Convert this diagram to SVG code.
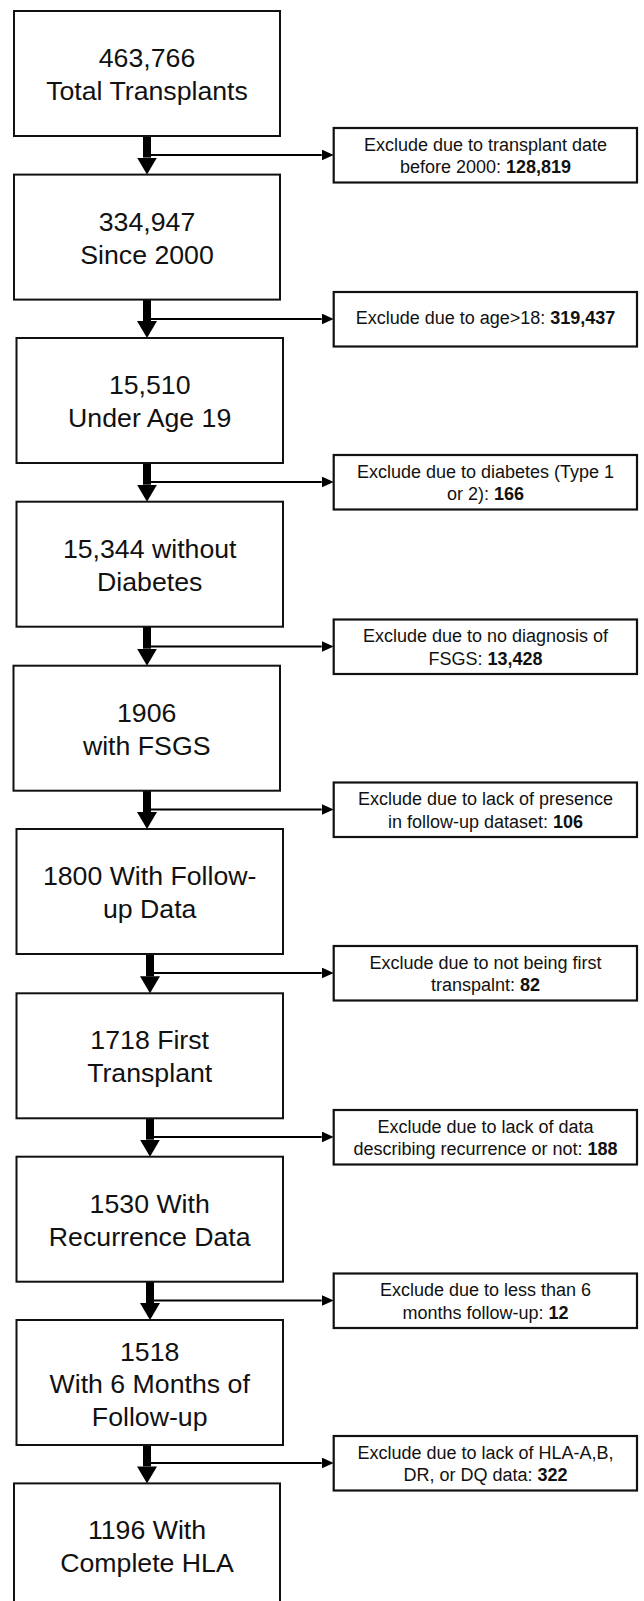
<svg xmlns="http://www.w3.org/2000/svg" width="644" height="1601" viewBox="0 0 644 1601">
<style>
.box{fill:#fff;stroke:#111;stroke-width:2}
.ex{fill:#fff;stroke:#111;stroke-width:2.2}
.t{font-family:"Liberation Sans",Arial,sans-serif;font-size:26.7px;fill:#111;text-anchor:middle}
.e{font-family:"Liberation Sans",Arial,sans-serif;font-size:18px;fill:#111;text-anchor:middle}
.b{font-weight:bold}
.shaft{stroke:#000;stroke-width:8;fill:none}
.thin{stroke:#000;stroke-width:2;fill:none}
</style>
<defs>
<marker id="big" markerUnits="userSpaceOnUse" markerWidth="17" markerHeight="20" viewBox="0 0 17 20" refX="0" refY="10" orient="auto"><path d="M0,0 L17,10 L0,20 Z" fill="#000"/></marker>
<marker id="small" markerUnits="userSpaceOnUse" markerWidth="12" markerHeight="11" viewBox="0 0 12 11" refX="0" refY="5.5" orient="auto"><path d="M0,0 L12,5.5 L0,11 Z" fill="#000"/></marker>
</defs>
<rect width="644" height="1601" fill="#fff"/>

<g id="connectors">
<line class="shaft" x1="147" y1="136" x2="147" y2="157.6" marker-end="url(#big)"/>
<line class="thin" x1="147" y1="155" x2="321.7" y2="155" marker-end="url(#small)"/>
<line class="shaft" x1="147" y1="299.6" x2="147" y2="321" marker-end="url(#big)"/>
<line class="thin" x1="147" y1="319" x2="321.7" y2="319" marker-end="url(#small)"/>
<line class="shaft" x1="147" y1="463" x2="147" y2="484.7" marker-end="url(#big)"/>
<line class="thin" x1="147" y1="482" x2="321.7" y2="482" marker-end="url(#small)"/>
<line class="shaft" x1="147" y1="626.7" x2="147" y2="648.7" marker-end="url(#big)"/>
<line class="thin" x1="147" y1="646.5" x2="321.7" y2="646.5" marker-end="url(#small)"/>
<line class="shaft" x1="147" y1="790.7" x2="147" y2="812" marker-end="url(#big)"/>
<line class="thin" x1="147" y1="809.5" x2="321.7" y2="809.5" marker-end="url(#small)"/>
<line class="shaft" x1="150" y1="954" x2="150" y2="976.3" marker-end="url(#big)"/>
<line class="thin" x1="150" y1="973" x2="321.7" y2="973" marker-end="url(#small)"/>
<line class="shaft" x1="150" y1="1118.3" x2="150" y2="1139.7" marker-end="url(#big)"/>
<line class="thin" x1="150" y1="1137" x2="321.7" y2="1137" marker-end="url(#small)"/>
<line class="shaft" x1="150" y1="1281.7" x2="150" y2="1303" marker-end="url(#big)"/>
<line class="thin" x1="150" y1="1300.5" x2="321.7" y2="1300.5" marker-end="url(#small)"/>
<line class="shaft" x1="147" y1="1445" x2="147" y2="1466.4" marker-end="url(#big)"/>
<line class="thin" x1="147" y1="1463" x2="321.7" y2="1463" marker-end="url(#small)"/>
</g>

<g id="n1"><rect class="box" x="14" y="11" width="266" height="125"/>
<text class="t" x="147" y="67">463,766</text><text class="t" x="147" y="100">Total Transplants</text></g>
<g id="n2"><rect class="box" x="14" y="174.6" width="266" height="125"/>
<text class="t" x="147" y="230.6">334,947</text><text class="t" x="147" y="263.6">Since 2000</text></g>
<g id="n3"><rect class="box" x="16.5" y="338" width="266.5" height="125"/>
<text class="t" x="149.7" y="394">15,510</text><text class="t" x="149.7" y="427">Under Age 19</text></g>
<g id="n4"><rect class="box" x="16.5" y="501.7" width="266.5" height="125"/>
<text class="t" x="149.7" y="557.7">15,344 without</text><text class="t" x="149.7" y="590.7">Diabetes</text></g>
<g id="n5"><rect class="box" x="13.5" y="665.7" width="266.5" height="125"/>
<text class="t" x="146.7" y="721.7">1906</text><text class="t" x="146.7" y="754.7">with FSGS</text></g>
<g id="n6"><rect class="box" x="16.5" y="829" width="266.5" height="125"/>
<text class="t" x="149.7" y="885">1800 With Follow-</text><text class="t" x="149.7" y="918">up Data</text></g>
<g id="n7"><rect class="box" x="16.5" y="993.3" width="266.5" height="125"/>
<text class="t" x="149.7" y="1049.3">1718 First</text><text class="t" x="149.7" y="1082.3">Transplant</text></g>
<g id="n8"><rect class="box" x="16.5" y="1156.7" width="266.5" height="125"/>
<text class="t" x="149.7" y="1212.7">1530 With</text><text class="t" x="149.7" y="1245.7">Recurrence Data</text></g>
<g id="n9"><rect class="box" x="16.5" y="1320" width="266.5" height="125"/>
<text class="t" x="149.7" y="1361">1518</text><text class="t" x="149.7" y="1393.3">With 6 Months of</text><text class="t" x="149.7" y="1425.6">Follow-up</text></g>
<g id="n10"><rect class="box" x="14" y="1483.4" width="266" height="125"/>
<text class="t" x="147" y="1539.4">1196 With</text><text class="t" x="147" y="1572.4">Complete HLA</text></g>

<g id="x1"><rect class="ex" x="333.7" y="128" width="303.3" height="54.5"/>
<text class="e" x="485.5" y="150.5">Exclude due to transplant date</text><text class="e" x="485.5" y="173">before 2000: <tspan class="b">128,819</tspan></text></g>
<g id="x2"><rect class="ex" x="333.7" y="292" width="303.3" height="54.5"/>
<text class="e" x="485.5" y="324">Exclude due to age&gt;18: <tspan class="b">319,437</tspan></text></g>
<g id="x3"><rect class="ex" x="333.7" y="455" width="303.3" height="54.5"/>
<text class="e" x="485.5" y="477.5">Exclude due to diabetes (Type 1</text><text class="e" x="485.5" y="500">or 2): <tspan class="b">166</tspan></text></g>
<g id="x4"><rect class="ex" x="333.7" y="619.5" width="303.3" height="54.5"/>
<text class="e" x="485.5" y="642">Exclude due to no diagnosis of</text><text class="e" x="485.5" y="664.5">FSGS: <tspan class="b">13,428</tspan></text></g>
<g id="x5"><rect class="ex" x="333.7" y="782.5" width="303.3" height="54.5"/>
<text class="e" x="485.5" y="805">Exclude due to lack of presence</text><text class="e" x="485.5" y="827.5">in follow-up dataset: <tspan class="b">106</tspan></text></g>
<g id="x6"><rect class="ex" x="333.7" y="946" width="303.3" height="54.5"/>
<text class="e" x="485.5" y="968.5">Exclude due to not being first</text><text class="e" x="485.5" y="991">transpalnt: <tspan class="b">82</tspan></text></g>
<g id="x7"><rect class="ex" x="333.7" y="1110" width="303.3" height="54.5"/>
<text class="e" x="485.5" y="1132.5">Exclude due to lack of data</text><text class="e" x="485.5" y="1155">describing recurrence or not: <tspan class="b">188</tspan></text></g>
<g id="x8"><rect class="ex" x="333.7" y="1273.5" width="303.3" height="54.5"/>
<text class="e" x="485.5" y="1296">Exclude due to less than 6</text><text class="e" x="485.5" y="1318.5">months follow-up: <tspan class="b">12</tspan></text></g>
<g id="x9"><rect class="ex" x="333.7" y="1436" width="303.3" height="54.5"/>
<text class="e" x="485.5" y="1458.5">Exclude due to lack of HLA-A,B,</text><text class="e" x="485.5" y="1481">DR, or DQ data: <tspan class="b">322</tspan></text></g>
</svg>
